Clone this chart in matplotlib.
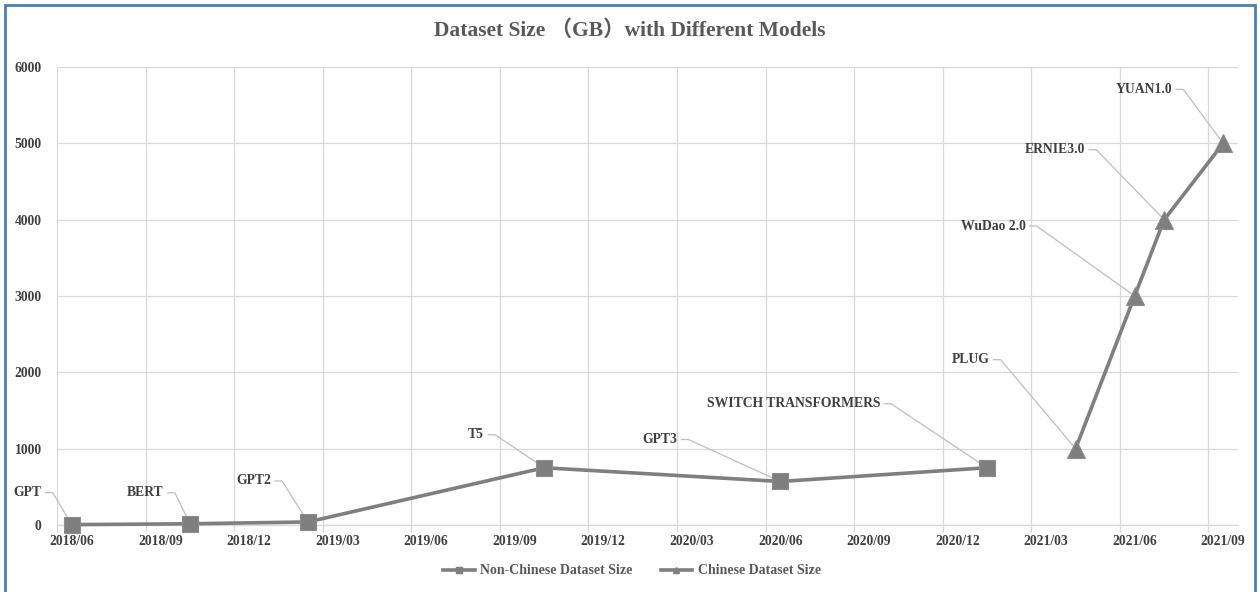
#!/usr/bin/env python3
import matplotlib
matplotlib.use('Agg')
import matplotlib.pyplot as plt
from matplotlib.lines import Line2D
from matplotlib.transforms import IdentityTransform
from matplotlib.patches import Rectangle

# ---- data ----
non_cn_models = ['GPT', 'BERT', 'GPT2', 'T5', 'GPT3', 'SWITCH TRANSFORMERS']
non_cn_dates = ['2018/06', '2018/10', '2019/02', '2019/10', '2020/06', '2021/01']
non_cn_size = [5, 16, 40, 750, 570, 750]

cn_models = ['PLUG', 'WuDao 2.0', 'ERNIE3.0', 'YUAN1.0']
cn_dates = ['2021/04', '2021/06', '2021/07', '2021/09']
cn_size = [1000, 3000, 4000, 5000]

tick_labels = ['2018/06', '2018/09', '2018/12', '2019/03', '2019/06',
               '2019/09', '2019/12', '2020/03', '2020/06', '2020/09',
               '2020/12', '2021/03', '2021/06', '2021/09']
y_ticks = [0, 1000, 2000, 3000, 4000, 5000, 6000]

# label offsets in pixels (text right end relative to point, y down)
label_offsets = {
    'GPT': (-30, -32), 'BERT': (-26, -31), 'GPT2': (-37, -41),
    'T5': (-60, -33), 'GPT3': (-103, -42),
    'SWITCH TRANSFORMERS': (-107, -64),
    'PLUG': (-86, -89), 'WuDao 2.0': (-109, -70),
    'ERNIE3.0': (-79, -70), 'YUAN1.0': (-51, -54),
}


def month_index(s):
    y, m = s.split('/')
    return (int(y) - 2018) * 12 + int(m) - 6


serif = ['Liberation Serif', 'DejaVu Serif']
txt_col = '#595959'
lab_col = '#404040'
line_col = '#7f7f7f'
grid_col = '#d9d9d9'

W, H = 1260, 592
fig = plt.figure(figsize=(W / 100, H / 100), dpi=100)
fig.patch.set_facecolor('white')

ax = fig.add_axes([57 / W, 1 - 525 / H, (1238 - 57) / W, (525 - 67) / H])

x_nc = [month_index(d) for d in non_cn_dates]
x_cn = [month_index(d) for d in cn_dates]

ax.plot(x_nc, non_cn_size, color=line_col, lw=2.6, marker='s', ms=11,
        mfc=line_col, mec='#8c8c8c', mew=0.8, clip_on=False, zorder=3)
ax.plot(x_cn, cn_size, color=line_col, lw=2.6, marker='^', ms=13,
        mfc=line_col, mec='#8c8c8c', mew=0.8, clip_on=False, zorder=3)

ax.set_xlim(-0.5, 39.5)
ax.set_ylim(0, 6000)
major = [month_index(t) for t in tick_labels]
ax.set_xticks(major)
ax.set_xticklabels(tick_labels)
ax.set_xticks([m - 0.5 for m in major], minor=True)
ax.set_yticks(y_ticks)
ax.set_yticklabels([str(v) for v in y_ticks])

ax.grid(axis='x', which='minor', color=grid_col, lw=0.9)
ax.grid(axis='y', which='major', color=grid_col, lw=0.9)
ax.axhline(0, color=grid_col, lw=1.0, clip_on=False, zorder=0.5)
ax.tick_params(axis='x', which='major', length=0, pad=7)
ax.tick_params(axis='x', which='minor', length=5, color=grid_col,
               width=0.9, direction='out')
ax.tick_params(axis='y', length=0, pad=11)
for lab in ax.get_xticklabels() + ax.get_yticklabels():
    lab.set_family(serif)
    lab.set_fontweight('bold')
    lab.set_fontsize(9.8)
    lab.set_color(lab_col)
for sp in ax.spines.values():
    sp.set_visible(False)
ax.set_axisbelow(True)

# data labels with leader lines
leader_col = '#bfbfbf'
for names, xs, ys in [(non_cn_models, x_nc, non_cn_size),
                      (cn_models, x_cn, cn_size)]:
    for name, xv, yv in zip(names, xs, ys):
        px, py = ax.transData.transform((xv, yv))
        dx, dy = label_offsets[name]
        tx, ty = px + dx, py - dy
        fig.text(tx / W, ty / H, name, ha='right', va='center',
                 family=serif, fontweight='bold', fontsize=9.8,
                 color=lab_col)
        ln = Line2D([tx + 4, tx + 11, px], [ty, ty, py], color=leader_col,
                    lw=0.9, transform=IdentityTransform(), clip_on=False,
                    zorder=2)
        ax.add_line(ln)

fig.text(0.5, 1 - 31 / H, 'Dataset Size （GB）with Different Models',
         ha='center', va='center', family=['Liberation Serif', 'Noto Sans CJK SC'],
         fontweight='bold', fontsize=15.5, color=txt_col)

handles = [
    Line2D([], [], color=line_col, lw=2.6, marker='s', ms=5, mfc=line_col,
           mec=line_col),
    Line2D([], [], color=line_col, lw=2.6, marker='^', ms=5, mfc=line_col,
           mec=line_col),
]
fig.legend(handles, ['Non-Chinese Dataset Size', 'Chinese Dataset Size'],
           loc='center', bbox_to_anchor=(632 / W, 1 - 571 / H), ncol=2,
           frameon=False, handlelength=2.3, handletextpad=0.4,
           columnspacing=2.0,
           prop={'family': serif, 'weight': 'bold', 'size': 10},
           labelcolor=txt_col)

# chart frame
fig.add_artist(Rectangle((5 / W, -0.01), (W - 10) / W, 1 - 5 / H + 0.01,
                         transform=fig.transFigure, fill=False,
                         edgecolor='#4a7ebb', lw=2))

fig.savefig('out.png', dpi=100)
